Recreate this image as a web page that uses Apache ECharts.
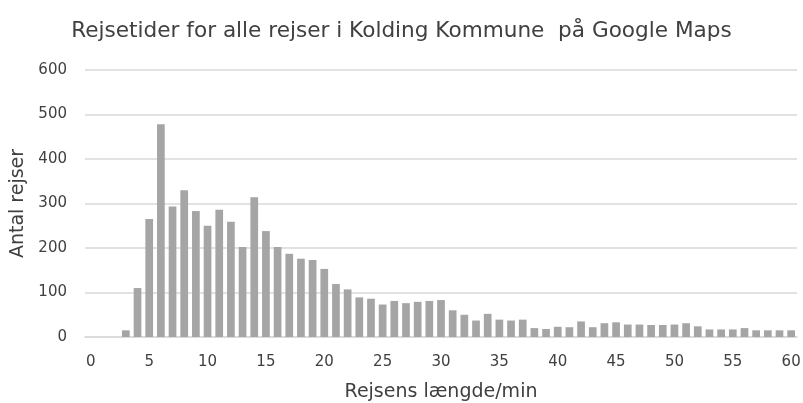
<!DOCTYPE html>
<html><head><meta charset="utf-8">
<script src="https://cdn.jsdelivr.net/npm/echarts@6/dist/echarts.min.js"></script>
<style>html,body{margin:0;padding:0;background:#fff}#c{width:803px;height:403px}</style>
</head><body><div id="c"></div>
<script>
const title = "Rejsetider for alle rejser i Kolding Kommune  på Google Maps";
const xTitle = "Rejsens længde/min";
const yTitle = "Antal rejser";
const minutes = [];
for (let i = 0; i <= 60; i++) minutes.push(String(i));
const trips = [
  0, 0, 0, 15, 110, 265, 478, 293, 330, 283,
  250, 286, 259, 202, 314, 238, 202, 187, 176, 173,
  153, 119, 107, 89, 86, 73, 81, 76, 79, 81,
  83, 60, 50, 37, 52, 39, 37, 39, 20, 18,
  23, 22, 35, 22, 31, 33, 28, 28, 27, 27,
  28, 31, 24, 17, 17, 17, 20, 15, 15, 15,
  15
];
const yTicks = [0, 100, 200, 300, 400, 500, 600];
const font = "DejaVu Sans";
const chart = echarts.init(document.getElementById('c'));
chart.setOption({
  animation: false,
  title: {text: title, left: 'center', top: 15, textStyle: {fontFamily: font, fontSize: 21.6, fontWeight: 'normal', color: '#404040'}},
  grid: {left: 85, right: 6, top: 70, bottom: 66, containLabel: false, outerBoundsMode: 'none'},
  xAxis: {
    type: 'category', data: minutes,
    name: xTitle, nameLocation: 'middle', nameGap: 46,
    nameTextStyle: {fontFamily: font, fontSize: 19, color: '#404040'},
    axisLine: {lineStyle: {color: '#d9d9d9', width: 1.5}},
    axisTick: {show: false},
    axisLabel: {interval: 4, fontFamily: font, fontSize: 15, color: '#404040', margin: 18}
  },
  yAxis: {
    type: 'value', min: yTicks[0], max: yTicks[yTicks.length - 1], interval: 100,
    name: yTitle, nameLocation: 'middle', nameGap: 56,
    nameTextStyle: {fontFamily: font, fontSize: 19, color: '#404040'},
    axisLine: {show: false}, axisTick: {show: false},
    splitLine: {lineStyle: {color: '#d9d9d9', width: 1.5}},
    axisLabel: {fontFamily: font, fontSize: 15, color: '#404040', margin: 18}
  },
  series: [{
    type: 'bar', data: trips, barCategoryGap: '34%',
    itemStyle: {color: '#a5a5a5'}
  }]
});
</script></body></html>
